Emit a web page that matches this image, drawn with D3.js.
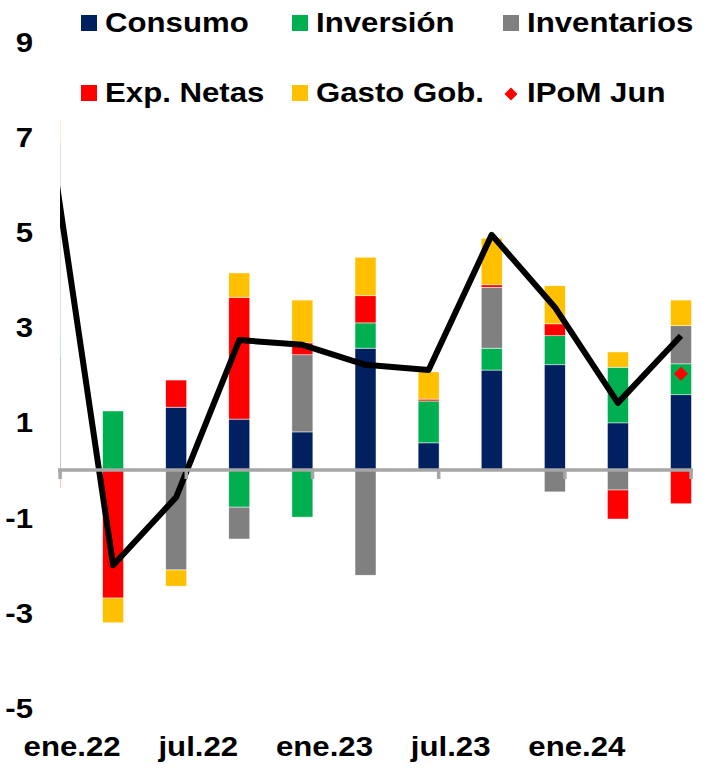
<!DOCTYPE html>
<html>
<head>
<meta charset="utf-8">
<script src="https://cdn.jsdelivr.net/npm/d3@7"></script>
<style>
body { margin: 0; background: #fff; }
text { font-family: "Liberation Sans", Arial, sans-serif; font-weight: bold; font-size: 27px; fill: #000; }
</style>
</head>
<body>
<div id="chart"></div>
<script>
// quarters shown (first one is mostly hidden behind the left edge)
const quarters = ['III.21', 'IV.21', 'I.22', 'II.22', 'III.22', 'IV.22', 'I.23', 'II.23', 'III.23', 'IV.23', 'I.24'];
const consumo     = [2.37, 0.00,  1.32,  1.07,  0.80,  2.56, 0.57, 2.10,  2.21,  0.99,  1.58];
const inversion   = [0.51, 1.24,  0.00, -0.78, -0.99,  0.53, 0.88, 0.46,  0.61,  1.17,  0.65];
const inventarios = [4.00, 0.00, -2.10, -0.67,  1.62, -2.21, 0.00, 1.28, -0.46, -0.42,  0.80];
const expNetas    = [-0.38, -2.69, 0.57, 2.56,  0.25,  0.57, 0.04, 0.05,  0.25, -0.61, -0.71];
const gastoGob    = [0.47, -0.52, -0.34, 0.51,  0.90,  0.81, 0.57, 0.98,  0.80,  0.32,  0.54];
const pib         = [6.97, -2.0, -0.57, 2.73, 2.63, 2.21, 2.10, 4.94, 3.42, 1.41, 2.82];
const ipomJun     = [null, null, null, null, null, null, null, null, null, null, 2.02];

const seriesNames = ['Consumo', 'Inversión', 'Inventarios', 'Exp. Netas', 'Gasto Gob.'];
const seriesColors = ['#002060', '#00B050', '#808080', '#FF0000', '#FFC000'];
const yTicks = [-5, -3, -1, 1, 3, 5, 7, 9];
const xLabels = ['ene.22', 'jul.22', 'ene.23', 'jul.23', 'ene.24'];

const width = 705, height = 771;
const svg = d3.select('#chart').append('svg')
    .attr('width', width)
    .attr('height', height);

const x = d3.scaleLinear().domain([0, 10]).range([50, 681]);
const y = d3.scaleLinear().domain([-5, 9]).range([708, 41.6]);
const barW = 21;

// rows for the stack
const rows = quarters.map((q, i) => ({
    q: q, i: i,
    'Consumo': consumo[i], 'Inversión': inversion[i], 'Inventarios': inventarios[i],
    'Exp. Netas': expNetas[i], 'Gasto Gob.': gastoGob[i]
}));
const stacked = d3.stack().keys(seriesNames).offset(d3.stackOffsetDiverging)(rows);

svg.append('defs').append('clipPath').attr('id', 'plotClip')
    .append('rect').attr('x', 60).attr('y', 0).attr('width', 645).attr('height', height);

const plot = svg.append('g').attr('clip-path', 'url(#plotClip)');

plot.selectAll('g.series')
    .data(stacked)
    .enter().append('g')
    .attr('class', 'series')
    .attr('fill', (d, k) => seriesColors[k])
    .selectAll('rect')
    .data(d => d)
    .enter().append('rect')
    .attr('x', d => x(d.data.i) - barW / 2)
    .attr('width', barW)
    .attr('y', d => y(Math.max(d[0], d[1])))
    .attr('height', d => Math.abs(y(d[0]) - y(d[1])))
    .attr('stroke', '#ffffff')
    .attr('stroke-width', 0.5);

// zero axis with tick marks
const tickIdx = [0.16, 2.16, 4.16, 6.16, 8.16, 10.16];
svg.append('line')
    .attr('x1', 58).attr('x2', 693)
    .attr('y1', y(0)).attr('y2', y(0))
    .attr('stroke', '#A6A6A6').attr('stroke-width', 3.5);
svg.selectAll('line.tick')
    .data(tickIdx)
    .enter().append('line')
    .attr('class', 'tick')
    .attr('x1', d => x(d)).attr('x2', d => x(d))
    .attr('y1', y(0)).attr('y2', y(0) + 9)
    .attr('stroke', '#A6A6A6').attr('stroke-width', 3.5);

// GDP line
const line = d3.line()
    .x((d, i) => x(i))
    .y(d => y(d));
plot.append('path')
    .datum(pib)
    .attr('d', line)
    .attr('fill', 'none')
    .attr('stroke', '#000')
    .attr('stroke-width', 6)
    .attr('stroke-linejoin', 'round');

// IPoM point
const diamond = d3.symbol(d3.symbolSquare, 98);
svg.selectAll('path.ipom')
    .data(ipomJun.map((v, i) => ({v: v, i: i})).filter(d => d.v !== null))
    .enter().append('path')
    .attr('class', 'ipom')
    .attr('d', diamond)
    .attr('transform', d => 'translate(' + x(d.i) + ',' + y(d.v) + ') rotate(45)')
    .attr('fill', '#FF0000');

function addText(g, tx, ty, txt, anchor) {
    g.append('text')
        .attr('transform', 'translate(' + tx + ',' + ty + ') scale(1.155,1)')
        .attr('text-anchor', anchor)
        .text(txt);
}

// y labels
const yAxis = svg.append('g');
yTicks.forEach(v => addText(yAxis, 33, y(v) + 10, v, 'end'));

// x labels
const xAxis = svg.append('g');
xLabels.forEach((lab, k) => addText(xAxis, x(2 * k + 0.35), 756, lab, 'middle'));

// legend
const legendItems = [
    {name: 'Consumo', color: seriesColors[0], col: 0, row: 0},
    {name: 'Inversión', color: seriesColors[1], col: 1, row: 0},
    {name: 'Inventarios', color: seriesColors[2], col: 2, row: 0},
    {name: 'Exp. Netas', color: seriesColors[3], col: 0, row: 1},
    {name: 'Gasto Gob.', color: seriesColors[4], col: 1, row: 1},
    {name: 'IPoM Jun', color: '#FF0000', col: 2, row: 1, marker: true}
];
const colX = [81, 292, 503];
const rowY = [32, 102];
const legend = svg.append('g');
legendItems.forEach(it => {
    const lx = colX[it.col], ly = rowY[it.row];
    if (it.marker) {
        legend.append('path')
            .attr('d', d3.symbol(d3.symbolSquare, 84))
            .attr('transform', 'translate(' + (lx + 8) + ',' + (ly - 8) + ') rotate(45)')
            .attr('fill', it.color);
    } else {
        legend.append('rect')
            .attr('x', lx).attr('y', ly - 17)
            .attr('width', 16).attr('height', 16)
            .attr('fill', it.color);
    }
    addText(legend, lx + 24, ly, it.name, 'start');
});
</script>
</body>
</html>
